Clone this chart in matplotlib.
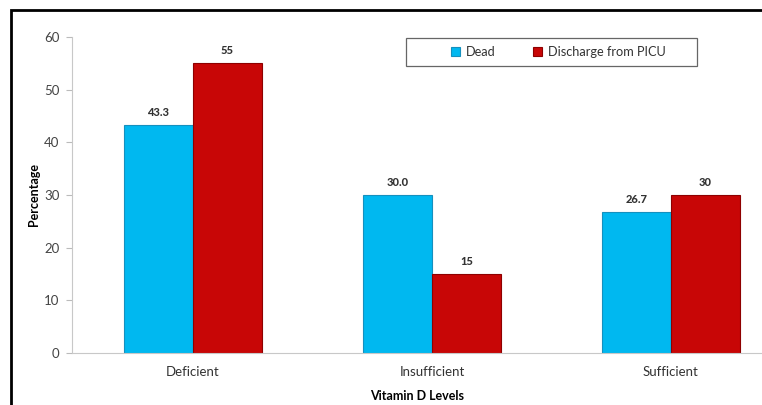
import matplotlib
matplotlib.use("Agg")
import matplotlib.pyplot as plt
import numpy as np
from matplotlib.patches import Rectangle

categories = ["Deficient", "Insufficient", "Sufficient"]
dead = [43.3, 30.0, 26.7]
discharge = [55, 15, 30]
dead_labels = ["43.3", "30.0", "26.7"]
discharge_labels = ["55", "15", "30"]
series_names = ["Dead", "Discharge from PICU"]

plt.rcParams['font.family'] = ['Lato', 'DejaVu Sans']

W, H = 762, 405
fig = plt.figure(figsize=(W/100, H/100), dpi=100)
ax = fig.add_axes([72/W, (H-353)/H, (762-72)/W, (353-37)/H])

x = np.arange(len(categories))
bw = 0.289
blue = "#00B8F0"
red = "#C80606"
b1 = ax.bar(x - bw/2, dead, bw, color=blue, edgecolor="#1590BE", linewidth=0.8, label=series_names[0])
b2 = ax.bar(x + bw/2, discharge, bw, color=red, edgecolor="#8E0000", linewidth=0.8, label=series_names[1])

for bars, labs in ((b1, dead_labels), (b2, discharge_labels)):
    for rect, lab in zip(bars, labs):
        ax.annotate(lab, (rect.get_x() + rect.get_width()/2, rect.get_height()),
                    xytext=(0, 5), textcoords="offset points", ha="center", va="bottom",
                    fontsize=8, fontweight="black", color="#333333")

ax.set_xlim(-0.506, 2.381)
ax.set_ylim(0, 60)
ax.set_yticks([0, 10, 20, 30, 40, 50, 60])
ax.set_xticks(x)
ax.set_xticklabels(categories, fontsize=9.5, color="#333333")
ax.tick_params(axis="x", length=0, pad=9)
ax.tick_params(axis="y", length=4, color="#BBBBBB", labelsize=9.5, labelcolor="#444444", pad=5)
for s in ["top", "right"]:
    ax.spines[s].set_visible(False)
ax.spines["left"].set_color("#C8C8C8")
ax.spines["bottom"].set_color("#C8C8C8")
ax.set_ylabel("Percentage", fontsize=9, fontweight="bold", labelpad=3)
ax.set_xlabel("Vitamin D Levels", fontsize=9, fontweight="bold", labelpad=9)

leg = ax.legend(loc="center left", bbox_to_anchor=((445-72)/(762-72), (353-52)/(353-37)),
                ncol=2, frameon=False, fontsize=9.2, handlelength=0.7,
                handleheight=0.7, handletextpad=0.45, columnspacing=2.9,
                borderpad=0.0, labelcolor="#333333")

fig.add_artist(Rectangle((406/W, (H-66)/H), (697-406)/W, 28/H, transform=fig.transFigure,
                         fill=False, edgecolor="#666666", linewidth=0.9))
fig.add_artist(Rectangle((11/W, -0.1), 1.2, (H-10)/H + 0.1, transform=fig.transFigure,
                         fill=False, edgecolor="black", linewidth=2, clip_on=False))

fig.savefig("out.png", dpi=100)
